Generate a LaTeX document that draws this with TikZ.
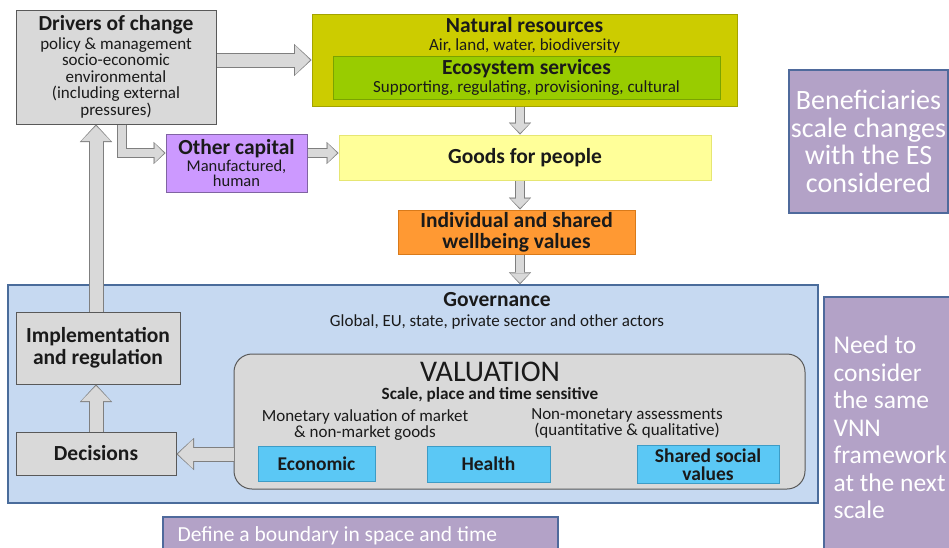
\documentclass[tikz,border=0pt]{standalone}
\usepackage{fontspec}
\setmainfont{Carlito}
\usepackage{tikz}
\usetikzlibrary{arrows.meta,positioning,calc}

\definecolor{ink}{HTML}{1A1A1A}
\definecolor{greyfill}{HTML}{D9D9D9}
\definecolor{greyline}{HTML}{595959}
\definecolor{natfill}{HTML}{CCCC00}
\definecolor{natline}{HTML}{A3A300}
\definecolor{esfill}{HTML}{99CC00}
\definecolor{esline}{HTML}{7AA300}
\definecolor{goodsfill}{HTML}{FFFF99}
\definecolor{goodsline}{HTML}{E6E673}
\definecolor{capfill}{HTML}{CC99FF}
\definecolor{capline}{HTML}{8064A2}
\definecolor{wellfill}{HTML}{FF9933}
\definecolor{wellline}{HTML}{D97A1A}
\definecolor{govfill}{HTML}{C6D9F1}
\definecolor{govline}{HTML}{4A6C9B}
\definecolor{kindfill}{HTML}{5BC8F5}
\definecolor{kindline}{HTML}{3D9CC6}
\definecolor{notefill}{HTML}{B3A2C7}
\definecolor{noteline}{HTML}{4F6A9C}
\definecolor{arrowfill}{HTML}{D9D9D9}
\definecolor{arrowline}{HTML}{7F7F7F}

\newcommand{\titlefont}{\fontsize{21.5}{19}\selectfont\bfseries}
\newcommand{\bodyfont}{\fontsize{17}{16.5}\selectfont}
\newcommand{\kindfont}{\fontsize{19.5}{18}\selectfont\bfseries}

\tikzset{
  box/.style={draw, line width=1pt, inner sep=0pt, align=center},
  bigarrow/.style={draw=arrowfill, line width=13pt, shorten >=1.5pt,
    -{Triangle[length=15pt,width=29pt,line width=0.1pt]},
    preaction={draw=arrowline, line width=15pt, shorten >=0pt,
      -{Triangle[length=17.5pt,width=32pt,line width=0.1pt]}}},
  smallarrow/.style={draw=arrowfill, line width=8.5pt, shorten >=1.5pt,
    -{Triangle[length=9.5pt,width=19pt,line width=0.1pt]},
    preaction={draw=arrowline, line width=10.5pt, shorten >=0pt,
      -{Triangle[length=12pt,width=22pt,line width=0.1pt]}}},
  notebox/.style={draw=noteline, line width=1.5pt, fill=notefill, inner sep=0pt}
}

\begin{document}
\begin{tikzpicture}[x=1pt,y=-1pt,font=\bodyfont,text=ink]
\useasboundingbox[fill=white] (0,0) rectangle (949,547);

\node[box, draw=govline, line width=1.5pt, fill=govfill, minimum width=810, minimum height=218] (governance) at (413,394) {};
\node[align=center] (govtitle) at (497,311) {{\titlefont Governance}\\[3pt] Global, EU, state, private sector and other actors};

\node[box, draw=greyline, fill=greyfill, minimum width=200, minimum height=114] (drivers) at (116,67)
  {{\titlefont Drivers of change}\\[2pt] policy \& management\\ socio-economic\\ environmental\\ (including external\\ pressures)};

\node[box, draw=natline, fill=natfill, minimum width=425, minimum height=92] (natres) at (524.5,60) {};
\node[align=center, below=0.5pt of natres.north] (natrestitle) {{\titlefont Natural resources}\\[1pt] Air, land, water, biodiversity};
\node[box, draw=esline, fill=esfill, minimum width=387, minimum height=43] (ecosys) at (526.5,77.5)
  {{\titlefont Ecosystem services}\\[2pt] Supporting, regulating, provisioning, cultural};

\node[box, draw=capline, fill=capfill, minimum width=141, minimum height=58, font=\fontsize{16.5}{15}\selectfont] (othercap) at (236.5,163)
  {{\titlefont Other capital}\\[1.5pt] Manufactured,\\ human};
\node[box, draw=goodsline, fill=goodsfill, minimum width=372, minimum height=45, font=\titlefont] (goods) at (525,157.5) {Goods for people};
\node[box, draw=wellline, fill=wellfill, minimum width=237, minimum height=44, font=\titlefont] (wellbeing) at (516.5,232) {Individual and shared\\[2pt] wellbeing values};

\node[box, draw=greyline, fill=greyfill, minimum width=164, minimum height=72, font=\titlefont] (impl) at (98,348) {Implementation\\[3pt] and regulation};
\node[box, draw=greyline, fill=greyfill, minimum width=160, minimum height=43, font=\titlefont] (decisions) at (96,453.5) {Decisions};

\node[box, draw=greyline, fill=greyfill, rounded corners=18pt, minimum width=571, minimum height=135] (valuation) at (519.5,421.5) {};
\node[align=center, font=\fontsize{17.2}{18}\selectfont] (valtitle) at (490,382.5) {{\fontsize{30}{18}\selectfont VALUATION}\\ {\bfseries Scale, place and time sensitive}};
\node[align=center, font=\fontsize{17}{15.5}\selectfont] (monetary) at (365,425) {Monetary valuation of market\\ \& non-market goods};
\node[align=center, font=\fontsize{17}{16}\selectfont] (nonmonetary) at (627,423) {Non-monetary assessments\\ (quantitative \& qualitative)};
\node[box, draw=kindline, fill=kindfill, minimum width=117, minimum height=35, font=\kindfont] (economic) at (316.5,463.5) {Economic};
\node[box, draw=kindline, fill=kindfill, minimum width=123, minimum height=36, font=\kindfont] (health) at (488.5,464) {Health};
\node[box, draw=kindline, fill=kindfill, minimum width=142, minimum height=38, font=\kindfont] (shared) at (708,464.5) {Shared social\\ values};

\node[notebox, minimum width=159, minimum height=143, text=white, align=center, font=\fontsize{28}{27.5}\selectfont] (benef) at (868.5,141.5)
  {Beneficiaries\\ scale changes\\ with the ES\\ considered};
\node[notebox, minimum width=128, minimum height=258] (need) at (888,426) {};
\node[anchor=west, align=left, text=white, font=\fontsize{25.5}{27.5}\selectfont] (needtext) at (830,427.5)
  {Need to\\ consider\\ the same\\ VNN\\ framework\\ at the next\\ scale};
\node[notebox, minimum width=395, minimum height=38] (boundary) at (360.5,536) {};
\node[anchor=west, text=white, font=\fontsize{21.5}{20}\selectfont] (boundarytext) at (174,536) {Define a boundary in space and time};

\draw[bigarrow] (drivers.east |- 0,60) -- (natres.west |- 0,60);
\draw[smallarrow] ([xshift=6pt]drivers.south) |- (othercap.west |- 0,153);
\draw[smallarrow] (othercap.east |- 0,153) -- (goods.west |- 0,153);
\draw[smallarrow] (natres.south -| 520,0) -- (goods.north -| 520,0);
\draw[smallarrow] (goods.south -| 520,0) -- (wellbeing.north -| 520,0);
\draw[smallarrow] (wellbeing.south -| 520,0) -- (governance.north -| 520,0);
\draw[bigarrow] (impl.north -| 96,0) -- (drivers.south -| 96,0);
\draw[bigarrow] (decisions.north -| 96,0) -- (impl.south -| 96,0);
\draw[bigarrow] (valuation.west |- 0,454) -- (decisions.east |- 0,454);
\end{tikzpicture}
\end{document}
